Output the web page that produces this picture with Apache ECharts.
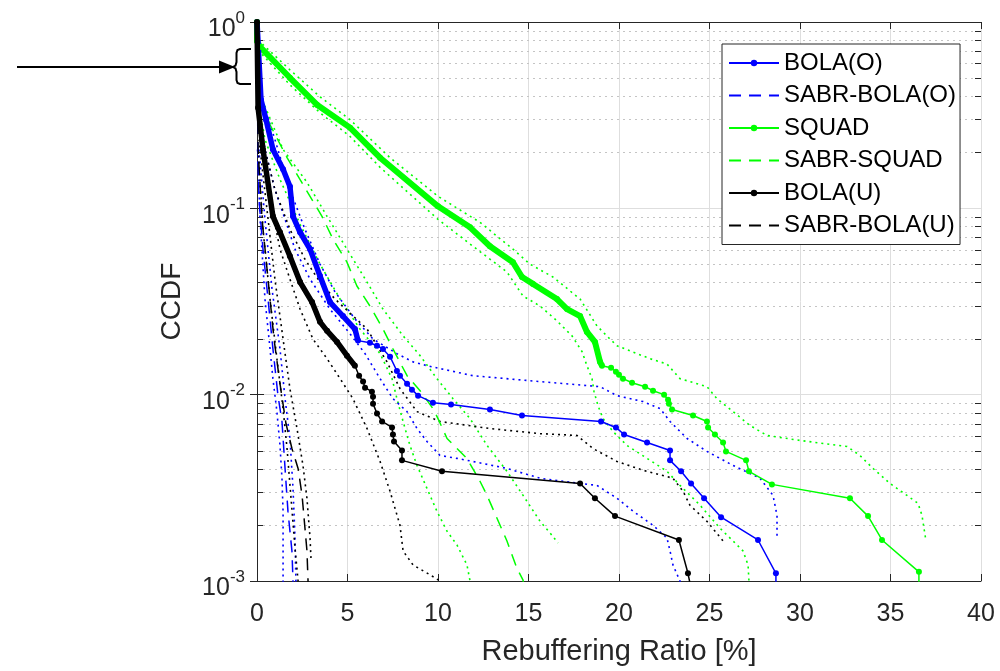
<!DOCTYPE html>
<html><head><meta charset="utf-8">
<script src="https://cdn.jsdelivr.net/npm/echarts@6/dist/echarts.min.js"></script>
<style>html,body{margin:0;padding:0;background:#fff;}#c{width:1000px;height:671px;}</style>
</head><body><div id="c"></div>
<script>
// ---- data (x = rebuffering ratio %, y = CCDF) ----
const xTickValues = [0, 5, 10, 15, 20, 25, 30, 35, 40];
const yMinorValues = [0.002,0.003,0.004,0.005,0.006,0.007,0.008,0.009,
                      0.02,0.03,0.04,0.05,0.06,0.07,0.08,0.09,
                      0.2,0.3,0.4,0.5,0.6,0.7,0.8,0.9];
const legendNames = ['BOLA(O)','SABR-BOLA(O)','SQUAD','SABR-SQUAD','BOLA(U)','SABR-BOLA(U)'];
const dashedNames = ['SABR-BOLA(O)','SABR-SQUAD','SABR-BOLA(U)'];

const bolaO = [[0,1],[0.22,0.383],[0.50,0.299],[0.88,0.207],[1.44,0.162],[1.82,0.131],[1.99,0.0906],
  [2.38,0.0744],[2.93,0.0604],[3.48,0.0433],[4.03,0.0314],[4.75,0.0264],[5.41,0.0225],[5.58,0.0195],
  [6.24,0.0190],[6.63,0.0183],[6.96,0.0176],[7.35,0.0160],[7.73,0.0134],[7.90,0.01264],[8.29,0.01145],
  [8.56,0.01064],[8.90,0.00988],[9.72,0.00906],[10.72,0.00885],[12.87,0.00832],[14.64,0.00773],
  [19.01,0.00718],[19.83,0.00667],[20.28,0.00611],[21.55,0.00554],[22.82,0.00502],[22.82,0.00444],
  [23.43,0.00388],[23.98,0.00334],[24.70,0.00278],[25.64,0.00220],[27.68,0.00166],[28.67,0.00110],[28.67,0.0008]];
const sabrBolaO = [[0,1],[0.05,0.2],[0.11,0.112],[0.33,0.0604],[0.61,0.0326],[0.88,0.0176],[1.16,0.00988],
  [1.38,0.00718],[1.55,0.00402],[1.71,0.00237],[1.93,0.00145],[1.99,0.001],[2.0,0.0008]];
const squad = [[0,1],[0,0.79],[0.17,0.735],[1.82,0.502],[3.31,0.360],[5.14,0.271],[6.24,0.212],[6.80,0.187],
  [10.0,0.1025],[11.77,0.0791],[12.87,0.0626],[14.14,0.0514],[14.64,0.0428],[15.25,0.0393],[16.57,0.0326],
  [17.13,0.0288],[17.85,0.0264],[18.23,0.0217],[18.67,0.0192],[18.95,0.0150],[19.06,0.0143],
  [19.56,0.01394],[19.83,0.01327],[20.0,0.01279],[20.22,0.01219],[20.72,0.01159],[21.44,0.01104],
  [21.88,0.01050],[22.49,0.0100],[22.71,0.00940],[22.76,0.00895],[22.93,0.00832],[24.09,0.00773],
  [24.86,0.00718],[24.92,0.00667],[25.30,0.00611],[25.75,0.00554],[25.91,0.00496],[27.02,0.00444],
  [27.18,0.00388],[28.45,0.00330],[32.76,0.00278],[33.76,0.00223],[34.53,0.00166],[36.57,0.00112],[36.57,0.0008]];
const sabrSquad = [[0,1],[0.17,0.383],[0.72,0.281],[1.66,0.187],[2.93,0.116],[3.59,0.0906],[4.20,0.0683],
  [4.97,0.0514],[5.52,0.0383],[6.24,0.0299],[6.96,0.0225],[7.51,0.0176],[8.29,0.01264],[9.01,0.0105],
  [9.72,0.00842],[10.0,0.00744],[10.50,0.00582],[11.60,0.00455],[12.32,0.00343],[12.71,0.00288],
  [13.26,0.00217],[13.81,0.00164],[14.36,0.00117],[14.70,0.00101],[14.8,0.0008]];
const bolaU = [[0,1],[0.06,0.347],[0.33,0.207],[0.88,0.0906],[1.27,0.0744],[1.82,0.0554],[2.38,0.0402],
  [3.04,0.0314],[3.48,0.0246],[3.87,0.0220],[4.42,0.0192],[4.97,0.0162],[5.41,0.0143],
  [5.64,0.01264],[5.86,0.01175],[5.97,0.01090],[6.35,0.01038],[6.41,0.00976],[6.41,0.00895],[6.63,0.00792],
  [6.91,0.00718],[7.46,0.00667],[7.51,0.00611],[7.57,0.00561],[8.01,0.00502],[8.01,0.00444],[10.22,0.00388],
  [17.85,0.00334],[18.67,0.00278],[19.78,0.00223],[23.31,0.00166],[23.81,0.00110],[24.1,0.0008]];
const sabrBolaU = [[0,1],[0.06,0.207],[0.28,0.0873],[0.61,0.0417],[0.94,0.0199],[1.27,0.01145],[1.60,0.00700],
  [1.93,0.00514],[2.27,0.00402],[2.49,0.00288],[2.65,0.00192],[2.76,0.00145],[2.82,0.001],[2.83,0.0008]];

// confidence bounds (dotted)
const squadHi = [[0.06,0.80],[1.82,0.554],[3.48,0.397],[5.14,0.299],[7.35,0.187],[10.0,0.116],[12.32,0.0841],
  [14.14,0.0604],[15.08,0.0502],[16.35,0.0428],[17.85,0.0326],[18.78,0.0234],[19.50,0.0199],[19.89,0.0183],
  [21.71,0.0156],[22.65,0.0146],[23.37,0.01219],[24.86,0.01104],[25.41,0.00952],[26.30,0.00811],[27.24,0.00683],
  [28.18,0.00604],[30.0,0.00568],[32.60,0.00527],[33.31,0.00472],[34.03,0.00402],[34.97,0.00334],[35.91,0.00288],
  [36.52,0.00261],[36.74,0.00225],[36.96,0.00164]];
const squadLo = [[0.06,0.708],[1.82,0.460],[3.48,0.326],[5.14,0.243],[6.80,0.166],[10.0,0.0873],[11.93,0.0626],
  [13.81,0.0455],[14.70,0.0338],[15.64,0.0299],[16.57,0.0249],[17.40,0.0207],[17.96,0.0170],[18.23,0.0143],
  [18.51,0.01219],[18.62,0.01038],[18.84,0.00873],[19.12,0.00744],[19.67,0.00634],[20.44,0.00534],[21.55,0.00455],
  [22.65,0.00388],[23.37,0.00326],[24.48,0.00255],[25.58,0.00192],[26.30,0.00164],[26.85,0.00145],[27.13,0.00122],
  [27.18,0.001],[27.19,0.0008]];
const bolaOHi = [[0.28,0.383],[0.99,0.234],[1.82,0.126],[2.65,0.0772],[3.48,0.0502],[4.31,0.0356],[5.41,0.0255],
  [6.41,0.0199],[7.73,0.0166],[8.62,0.0150],[9.39,0.0143],[11.93,0.01264],[15.64,0.01175],[18.95,0.01104],
  [19.89,0.00988],[21.33,0.00918],[22.27,0.00842],[22.82,0.00718],[23.76,0.00582],[24.86,0.00496],[26.30,0.00417],
  [27.79,0.00356],[28.51,0.00288],[28.73,0.00225],[28.73,0.00170]];
const bolaOLo = [[0.06,0.338],[0.44,0.207],[0.99,0.126],[1.55,0.0873],[2.10,0.0604],[2.93,0.0417],[4.03,0.0288],
  [5.14,0.0212],[5.97,0.0166],[6.80,0.01219],[7.51,0.00952],[8.29,0.00811],[8.84,0.00658],[9.39,0.00561],
  [10.11,0.00472],[11.05,0.00455],[11.93,0.00438],[13.81,0.00402],[15.64,0.00356],[17.85,0.00334],[18.78,0.00326],
  [19.89,0.00278],[20.77,0.00237],[21.88,0.00199],[22.65,0.00170],[22.82,0.00145],[22.98,0.00122],[23.37,0.001],[23.4,0.0008]];
const bolaUHi = [[0.06,0.338],[0.44,0.207],[0.99,0.126],[1.82,0.0772],[2.65,0.0533],[3.48,0.0402],[4.31,0.0326],
  [6.08,0.0225],[7.18,0.0150],[7.90,0.01077],[8.84,0.00811],[10.11,0.00718],[12.87,0.00658],[15.64,0.00618],
  [17.68,0.00604],[18.56,0.00514],[19.89,0.00438],[21.33,0.00393],[22.98,0.00356],[23.54,0.00303],[23.92,0.00255],
  [24.86,0.00209],[25.75,0.00164]];
const bolaULo = [[0.06,0.318],[0.33,0.207],[0.72,0.112],[1.27,0.0604],[1.82,0.0417],[2.38,0.0288],[3.09,0.0199],
  [3.87,0.0156],[4.59,0.01219],[5.30,0.00952],[6.08,0.00658],[6.80,0.00438],[7.35,0.00303],[7.90,0.00199],
  [8.07,0.00145],[8.62,0.00122],[9.56,0.00108],[10.11,0.001],[10.3,0.0008]];
const sabrSquadHi = [[0.17,0.407],[1.44,0.207],[2.76,0.138],[3.87,0.0906],[4.97,0.0604],[6.08,0.0402],[6.96,0.0288],
  [8.07,0.0207],[9.01,0.0162],[9.94,0.01219],[10.83,0.00952],[11.77,0.00744],[12.71,0.00534],[13.81,0.00388],
  [14.70,0.00288],[15.64,0.00209],[16.19,0.00181],[16.63,0.00160]];
const sabrSquadLo = [[0.06,0.383],[0.44,0.234],[1.27,0.143],[2.38,0.0821],[3.48,0.0502],[4.59,0.0326],[5.69,0.0225],
  [6.80,0.0166],[7.46,0.01219],[7.73,0.00952],[8.07,0.00718],[8.45,0.00534],[8.84,0.00417],[9.39,0.00314],
  [9.94,0.00237],[10.50,0.00185],[11.05,0.00156],[11.60,0.00122],[11.77,0.001],[11.8,0.0008]];
const sabrBolaOHi = [[0.11,0.207],[0.44,0.0873],[0.83,0.0369],[1.27,0.0176],[1.55,0.00952],[1.82,0.00582],
  [1.99,0.00314],[2.10,0.00170],[2.15,0.001],[2.16,0.0008]];
const sabrBolaOLo = [[0.03,0.207],[0.17,0.0873],[0.44,0.0326],[0.72,0.0176],[0.88,0.01219],[1.10,0.00811],
  [1.27,0.00534],[1.38,0.00356],[1.44,0.00237],[1.44,0.001],[1.45,0.0008]];
const sabrBolaUHi = [[0.11,0.234],[0.55,0.0988],[0.99,0.0417],[1.44,0.0199],[1.82,0.01077],[2.21,0.00658],
  [2.54,0.00417],[2.76,0.00278],[2.93,0.00170],[2.98,0.00133]];
const sabrBolaULo = [[0.06,0.207],[0.33,0.0772],[0.72,0.0326],[1.10,0.0156],[1.44,0.00842],[1.66,0.00514],
  [1.88,0.00278],[2.10,0.00150],[2.27,0.001],[2.28,0.0008]];

// ---- styling ----
const FONT = '"Liberation Sans", Arial, Helvetica, sans-serif';
const TXT = '#262626';
const BLUE = '#0000ff', GREEN = '#00ff00', BLACK = '#000000';
const DOT = [2, 4], DASH = [12, 8];

function lineS(name, data, color, opts) {
  opts = opts || {};
  return {
    name: name, type: 'line', data: data, animation: false, silent: true,
    symbol: opts.symbol || 'none', symbolSize: opts.symbolSize || 5, showSymbol: !!opts.symbol,
    itemStyle: { color: color },
    lineStyle: { color: color, width: opts.width || 1.5, type: opts.dash || 'solid' },
    z: opts.z || 2
  };
}

const chart = echarts.init(document.getElementById('c'), null, { renderer: 'canvas' });

const minorSeries = {
  type: 'custom', silent: true, animation: false, z: 1,
  data: yMinorValues.map(v => [0, v]),
  renderItem: function (params, api) {
    const cs = params.coordSys;
    const y = Math.round(api.coord([0, api.value(1)])[1]) + 0.5;
    return { type: 'group', children: [
      { type: 'line', shape: { x1: cs.x, y1: y, x2: cs.x + cs.width, y2: y },
        style: { stroke: '#c4c4c4', lineWidth: 1, lineDash: [2, 4] } },
      { type: 'line', shape: { x1: cs.x, y1: y, x2: cs.x + 6, y2: y }, style: { stroke: TXT, lineWidth: 1 } },
      { type: 'line', shape: { x1: cs.x + cs.width - 6, y1: y, x2: cs.x + cs.width, y2: y }, style: { stroke: TXT, lineWidth: 1 } }
    ]};
  }
};

const option = {
  backgroundColor: '#fff',
  animation: false,
  textStyle: { fontFamily: FONT },
  grid: { left: 257, right: 19, top: 22, bottom: 88 },
  legend: {
    data: legendNames.map(n => dashedNames.indexOf(n) >= 0 ? { name: n, itemStyle: { opacity: 0, borderWidth: 0 } } : n),
    orient: 'vertical', left: 722, top: 44,
    backgroundColor: '#fff', borderColor: TXT, borderWidth: 1, borderRadius: 0,
    padding: [7, 4, 7, 6], itemWidth: 50, itemHeight: 8, itemGap: 8.5,
    textStyle: { fontFamily: FONT, fontSize: 24, color: '#000', lineHeight: 24 },
    selectedMode: false
  },
  xAxis: [{
    type: 'value', min: 0, max: 40, interval: 5,
    name: 'Rebuffering Ratio [%]', nameLocation: 'middle', nameGap: 56,
    nameTextStyle: { fontFamily: FONT, fontSize: 29, color: TXT },
    axisLine: { show: true, lineStyle: { color: TXT, width: 1 } },
    axisTick: { show: true, inside: true, length: 7, lineStyle: { color: TXT } },
    axisLabel: { fontFamily: FONT, fontSize: 25, color: TXT, margin: 21,
      formatter: v => xTickValues.indexOf(v) >= 0 ? String(v) : '' },
    splitLine: { show: true, lineStyle: { color: '#dedede', width: 1 } }
  }, {
    type: 'value', min: 0, max: 40, interval: 5, position: 'top',
    axisLine: { show: true, lineStyle: { color: TXT, width: 1 } },
    axisTick: { show: true, inside: true, length: 7, lineStyle: { color: TXT } },
    axisLabel: { show: false }, splitLine: { show: false }
  }],
  yAxis: [{
    type: 'log', logBase: 10, min: 0.001, max: 1,
    name: 'CCDF', nameLocation: 'middle', nameGap: 71,
    nameTextStyle: { fontFamily: FONT, fontSize: 28, color: TXT },
    axisLine: { show: true, lineStyle: { color: TXT, width: 1 } },
    axisTick: { show: true, inside: true, length: 7, lineStyle: { color: TXT } },
    minorTick: { show: false },
    splitLine: { show: true, lineStyle: { color: '#dedede', width: 1 } },
    axisLabel: {
      margin: 12,
      formatter: v => '{b|10}{s|' + Math.round(Math.log10(v)) + '}',
      rich: {
        b: { fontFamily: FONT, fontSize: 25, color: TXT, lineHeight: 25, verticalAlign: 'bottom' },
        s: { fontFamily: FONT, fontSize: 17, color: TXT, lineHeight: 40, verticalAlign: 'top', padding: [7.5, 0, 0, 0] }
      }
    }
  }, {
    type: 'log', logBase: 10, min: 0.001, max: 1, position: 'right',
    axisLine: { show: true, lineStyle: { color: TXT, width: 1 } },
    axisTick: { show: true, inside: true, length: 7, lineStyle: { color: TXT } },
    axisLabel: { show: false }, splitLine: { show: false }
  }],
  series: [
    minorSeries,
    lineS('squadHi', squadHi, GREEN, { dash: DOT, width: 1.6 }),
    lineS('squadLo', squadLo, GREEN, { dash: DOT, width: 1.6 }),
    lineS('sabrSquadHi', sabrSquadHi, GREEN, { dash: DOT, width: 1.6 }),
    lineS('sabrSquadLo', sabrSquadLo, GREEN, { dash: DOT, width: 1.6 }),
    lineS('bolaOHi', bolaOHi, BLUE, { dash: DOT, width: 1.6 }),
    lineS('bolaOLo', bolaOLo, BLUE, { dash: DOT, width: 1.6 }),
    lineS('sabrBolaOHi', sabrBolaOHi, BLUE, { dash: DOT, width: 1.6 }),
    lineS('sabrBolaOLo', sabrBolaOLo, BLUE, { dash: DOT, width: 1.6 }),
    lineS('bolaUHi', bolaUHi, BLACK, { dash: DOT, width: 1.6 }),
    lineS('bolaULo', bolaULo, BLACK, { dash: DOT, width: 1.6 }),
    lineS('sabrBolaUHi', sabrBolaUHi, BLACK, { dash: DOT, width: 1.6 }),
    lineS('sabrBolaULo', sabrBolaULo, BLACK, { dash: DOT, width: 1.6 }),
    lineS('SABR-BOLA(O)', sabrBolaO, BLUE, { dash: DASH, width: 1.5, z: 3 }),
    lineS('SABR-SQUAD', sabrSquad, GREEN, { dash: DASH, width: 1.5, z: 3 }),
    lineS('SABR-BOLA(U)', sabrBolaU, BLACK, { dash: DASH, width: 1.5, z: 3 }),
    lineS('squadDense', squad.filter(p => p[0] <= 19.1), GREEN, { width: 6, z: 4 }),
    lineS('bolaODense', bolaO.filter(p => p[0] <= 5.6), BLUE, { width: 5.5, z: 4 }),
    lineS('bolaUDense', bolaU.filter(p => p[0] <= 5.45), BLACK, { width: 5.5, z: 5 }),
    lineS('BOLA(O)', bolaO, BLUE, { symbol: 'circle', symbolSize: 6, width: 1.5, z: 4 }),
    lineS('SQUAD', squad, GREEN, { symbol: 'circle', symbolSize: 6, width: 1.5, z: 4 }),
    lineS('BOLA(U)', bolaU, BLACK, { symbol: 'circle', symbolSize: 6, width: 1.5, z: 5 })
  ],
  graphic: [
    { type: 'line', shape: { x1: 17, y1: 67, x2: 222, y2: 67 }, style: { stroke: '#000', lineWidth: 2 } },
    { type: 'polygon', shape: { points: [[219, 60.5], [235, 67], [219, 73.5]] }, style: { fill: '#000' } },
    { type: 'polyline', shape: { points: [[251,49],[240,49],[237.5,50],[236.5,53],[236.5,62],[235.5,65.5],[233,67],
        [235.5,68.5],[236.5,72],[236.5,80],[237.5,83],[240,84],[251,84]] },
      style: { stroke: '#000', lineWidth: 2, fill: null } }
  ]
};
chart.setOption(option);
</script>
</body></html>
